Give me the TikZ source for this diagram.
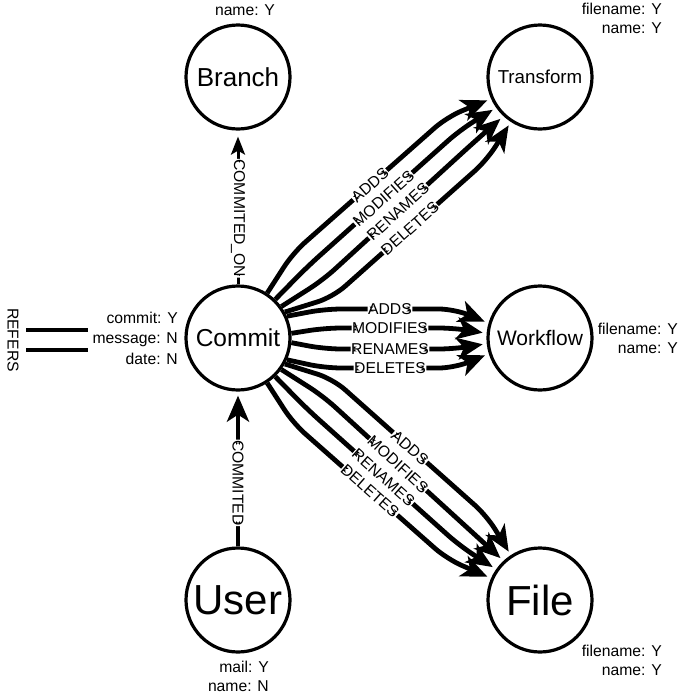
\documentclass[tikz,border=0pt]{standalone}
\usepackage{fontspec}
\setmainfont{Liberation Sans}
\usetikzlibrary{arrows.meta}

\newcommand{\fs}[1]{\fontsize{#1}{#1}\selectfont}

\begin{document}
\begin{tikzpicture}[
	x=1pt, y=1pt,
	line join=round,
	rounded corners=16pt
]
\tikzset{
    entity/.style = {circle, draw=black, line width=3.2pt, minimum size=104pt, inner sep=0pt, align=center},
    rel/.style = {line width=4.8pt, shorten >=4pt, -{Stealth[length=26pt,width=22pt,inset=7pt]}},
    thinrel/.style = {line width=3pt, shorten >=6pt, -{Stealth[length=18pt,width=14pt,inset=4pt]}},
    rellabel/.style = {fill=white, inner sep=0.5pt, font=\fontsize{15.7}{19}\selectfont},
    attr/.style = {align=right, inner sep=0pt, font=\fontsize{15.7}{19}\selectfont},
}
\useasboundingbox (0,0) rectangle (684,-697);

\node (branch) [entity, font=\fs{26}] at (238,-77) {Branch};
\node (transform) [entity, font=\fs{18.7}] at (540,-77) {Transform};
\node (commit) [entity, font=\fs{24.5}] at (238,-338) {Commit};
\node (workflow) [entity, font=\fs{21}] at (540,-338) {Workflow};
\node (user) [entity, font=\fs{42}] at (238,-600) {User};
\node (file) [entity, font=\fs{42}] at (540,-600) {File};

\node (branchattr) [attr] at (245,-10) {name: Y};
\node (transformattr) [attr, anchor=east] at (662,-18) {filename: Y\\name: Y};
\node (commitattr) [attr, anchor=east, font=\fontsize{15.7}{20.5}\selectfont] at (178,-338) {commit: Y\\message: N\\date: N};
\node (workflowattr) [attr, anchor=east] at (678,-338) {filename: Y\\name: Y};
\node (userattr) [attr, anchor=east] at (269,-676) {mail: Y\\name: N};
\node (fileattr) [attr, anchor=east] at (662,-660) {filename: Y\\name: Y};

\draw[thinrel] (commit.north) -- node[rellabel, rotate=-90, pos=0.43] {COMMITED\_ON} (branch.south);
\draw[rel] (user.north) -- node[rellabel, rotate=-90, pos=0.41] {COMMITED} (commit.south);

\draw[rel] (commit.57) -- (293,-253) -- node[rellabel, sloped] {ADDS} (447,-117) -- (transform.204);
\draw[rel] (commit.46) -- (307,-267) -- node[rellabel, sloped] {MODIFIES} (460,-130) -- (transform.215);
\draw[rel] (commit.36) -- (323,-280) -- node[rellabel, sloped] {RENAMES} (473,-143) -- (transform.227);
\draw[rel] (commit.29) -- (333,-297) -- node[rellabel, sloped] {DELETES} (487,-160) -- (transform.237);

\draw[rel] (commit.24) -- (325,-309) -- node[rellabel] {ADDS} (455,-309) -- (workflow.164);
\draw[rel] (commit.5) -- (325,-328) -- node[rellabel] {MODIFIES} (455,-328) -- (workflow.175);
\draw[rel] (commit.-5) -- (325,-349) -- node[rellabel] {RENAMES} (455,-349) -- (workflow.186);
\draw[rel] (commit.-24) -- (325,-368) -- node[rellabel] {DELETES} (455,-368) -- (workflow.197);

\draw[rel] (commit.-29) -- (333,-379) -- node[rellabel, sloped] {ADDS} (487,-516) -- (file.123);
\draw[rel] (commit.-36) -- (323,-396) -- node[rellabel, sloped] {MODIFIES} (473,-533) -- (file.133);
\draw[rel] (commit.-46) -- (307,-409) -- node[rellabel, sloped] {RENAMES} (460,-546) -- (file.145);
\draw[rel] (commit.-57) -- (293,-423) -- node[rellabel, sloped] {DELETES} (447,-559) -- (file.156);

\coordinate (refA1) at (26,-330);
\coordinate (refA2) at (88,-330);
\coordinate (refB1) at (26,-350);
\coordinate (refB2) at (88,-350);
\draw[line width=4.8pt] (refA1) -- (refA2);
\draw[line width=4.8pt] (refB1) -- (refB2);
\node (refers) [rotate=-90, inner sep=0pt, font=\fontsize{15.7}{19}\selectfont] at (13,-340) {REFERS};
\end{tikzpicture}
\end{document}
